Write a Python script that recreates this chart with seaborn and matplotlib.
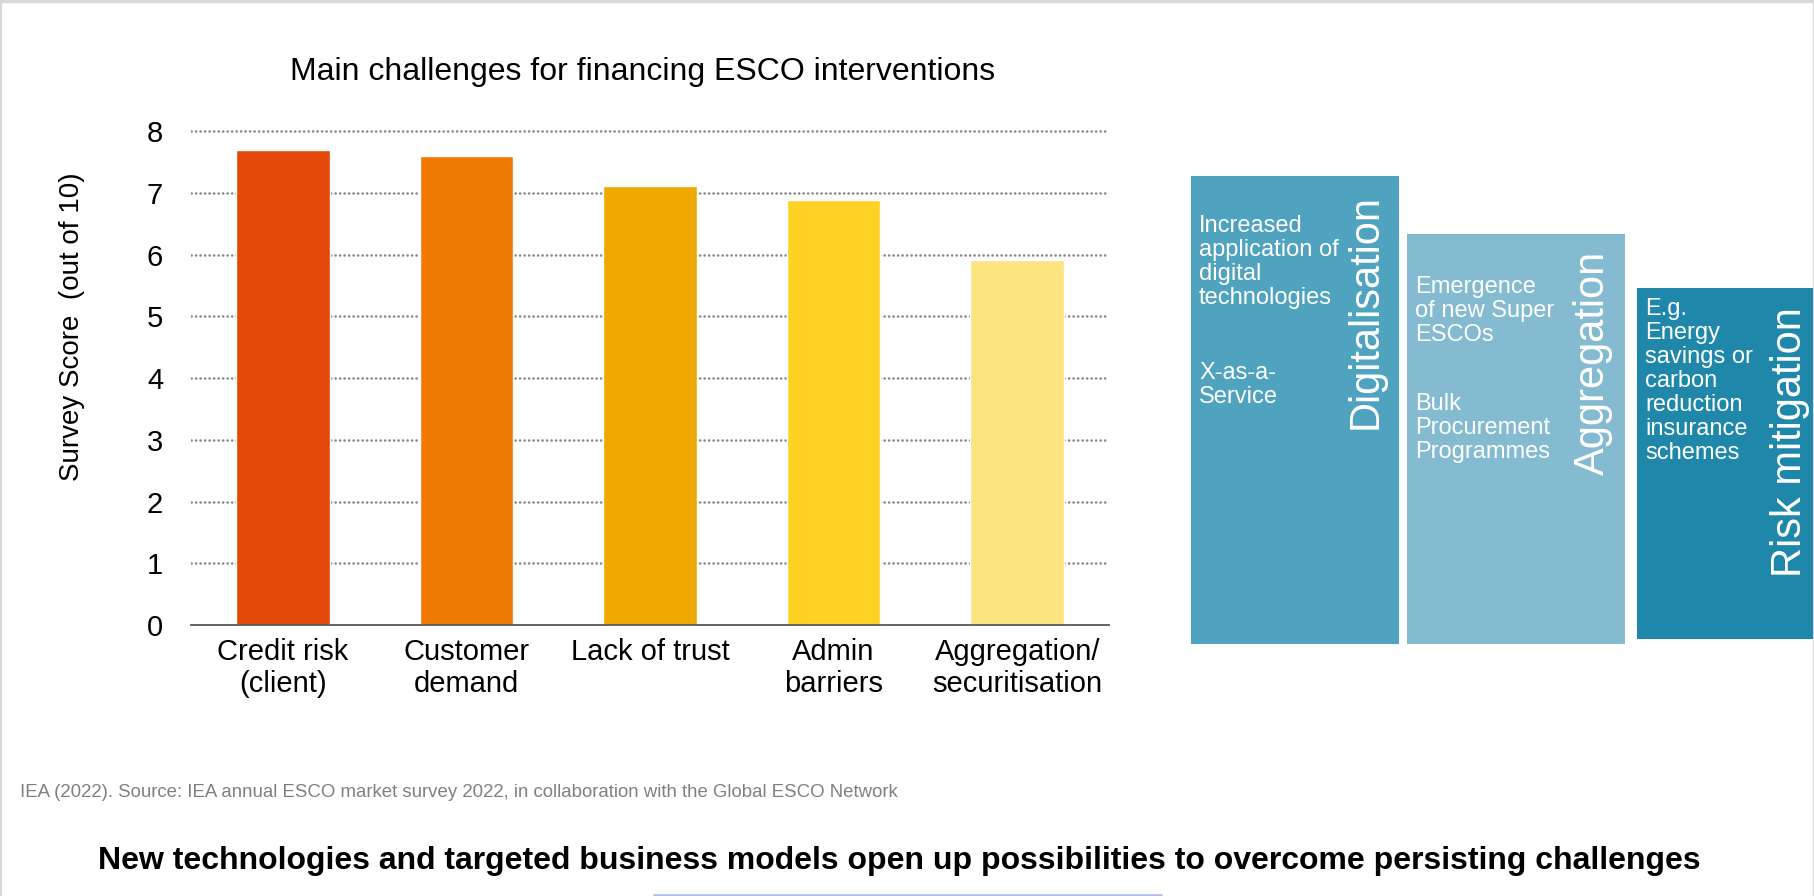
import matplotlib
matplotlib.use('Agg')
import matplotlib.pyplot as plt
import seaborn as sns
from matplotlib.lines import Line2D
from matplotlib.patches import Rectangle

# bar chart data
categories = ['Credit risk\n(client)', 'Customer\ndemand', 'Lack of trust',
              'Admin\nbarriers', 'Aggregation/\nsecuritisation']
scores = [7.70, 7.60, 7.11, 6.88, 5.91]
bar_colors = ['#E2490A', '#F07A00', '#F0A900', '#FDD225', '#FCE47E']
y_ticks = [0, 1, 2, 3, 4, 5, 6, 7, 8]

# right hand panels
panel_titles = ['Digitalisation', 'Aggregation', 'Risk mitigation']
panel_notes = [
    ['Increased\napplication of\ndigital\ntechnologies', 'X-as-a-\nService'],
    ['Emergence\nof new Super\nESCOs', 'Bulk\nProcurement\nProgrammes'],
    ['E.g.\nEnergy\nsavings or\ncarbon\nreduction\ninsurance\nschemes'],
]
panel_colors = ['#4FA3BF', '#84BBD0', '#1E87AA']

chart_title = 'Main challenges for financing ESCO interventions'
y_label = 'Survey Score  (out of 10)'
source = ('IEA (2022). Source: IEA annual ESCO market survey 2022, '
          'in collaboration with the Global ESCO Network')
headline = ('New technologies and targeted business models open up '
            'possibilities to overcome persisting challenges')

W, H = 1815, 896

sns.set_style('white')
plt.rcParams['font.family'] = ['Liberation Sans', 'DejaVu Sans']
plt.rcParams['text.color'] = 'black'


def fx(x):
    return x / W


def fy(y):
    return 1 - y / H


fig = plt.figure(figsize=(W / 100, H / 100), dpi=100)

# --- bar chart ---
ax = fig.add_axes([fx(191), fy(625), fx(1109 - 191), (625 - 130) / H])
sns.barplot(x=categories, y=scores, hue=categories, palette=bar_colors,
            legend=False, width=0.51, saturation=1, ax=ax)
ax.set_xlim(-0.5, len(categories) - 0.5)
ax.set_ylim(0, 8.02)
ax.set_yticks(y_ticks)
ax.set_axisbelow(True)
ax.yaxis.grid(True, color='#858585', linestyle=(0, (0.1, 1.7)),
              linewidth=1.8, dash_capstyle='round')
ax.xaxis.grid(False)
for s in ['left', 'right', 'top']:
    ax.spines[s].set_visible(False)
ax.spines['bottom'].set_color('#595959')
ax.spines['bottom'].set_linewidth(1.3)
ax.tick_params(axis='both', length=0, labelsize=21, colors='black')
ax.tick_params(axis='y', pad=20)
ax.tick_params(axis='x', pad=9)
ax.set_xlabel('')
ax.set_ylabel(y_label, fontsize=20, va='center', color='black')
ax.yaxis.set_label_coords((72 - 191) / 918, (625 - 327) / 495)

fig.text(fx(643), fy(72), chart_title, fontsize=23, ha='center', va='center')

# --- right panels ---
panel_boxes = [(1191, 176, 1399, 644), (1407, 234, 1625, 644), (1637, 288, 1815, 639)]
note_tops = [[39, 186], [42, 159], [10]]
title_pos = [(1366, 194), (1593, 251), (1790, 307)]

for i, (x0, y0, x1, y1) in enumerate(panel_boxes):
    fig.patches.append(Rectangle((fx(x0), fy(y1)), fx(x1 - x0), (y1 - y0) / H,
                                 transform=fig.transFigure,
                                 facecolor=panel_colors[i], edgecolor='none'))
    for note, dy in zip(panel_notes[i], note_tops[i]):
        fig.text(fx(x0 + 8), fy(y0 + dy), note, color='white', fontsize=17,
                 ha='left', va='top', linespacing=1.12)
    tx, ty = title_pos[i]
    fig.text(fx(tx), fy(ty), panel_titles[i], color='white', fontsize=30,
             rotation=90, ha='center', va='top')

# --- footer ---
fig.text(fx(20), fy(792), source, fontsize=13.4, color='#808080',
         ha='left', va='center')
fig.text(fx(899), fy(861), headline, fontsize=23, fontweight='bold',
         ha='center', va='center')

# slide frame
frame = '#D9D9D9'
fig.add_artist(Line2D([0, 1], [fy(1.5), fy(1.5)], transform=fig.transFigure,
                      color=frame, lw=2.5))
fig.add_artist(Line2D([fx(1), fx(1)], [0, 1], transform=fig.transFigure,
                      color=frame, lw=1.5))
fig.add_artist(Line2D([fx(1814), fx(1814)], [0, 1], transform=fig.transFigure,
                      color=frame, lw=1.5))
fig.add_artist(Line2D([fx(654), fx(1161)], [fy(895), fy(895)],
                      transform=fig.transFigure, color='#B4BEEB', lw=2))

fig.savefig('out.png', dpi=100)
